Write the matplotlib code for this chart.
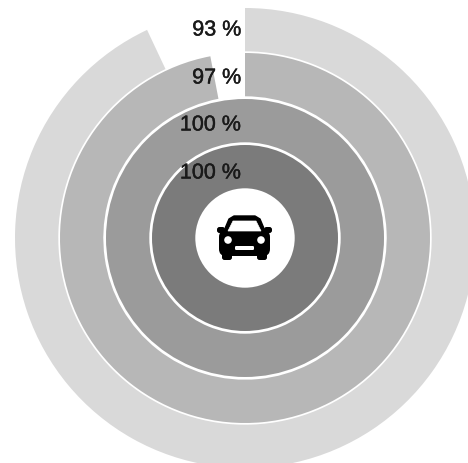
import matplotlib
matplotlib.use('Agg')
import matplotlib.pyplot as plt
import matplotlib.patheffects as pe
from matplotlib.patches import Circle, FancyBboxPatch, Polygon

values = [93, 97, 100, 100]
labels = ['93 %', '97 %', '100 %', '100 %']
colors = ['#d9d9d9', '#b7b7b7', '#9b9b9b', '#7b7b7b']

W, H = 468, 463
cx, cy = 245, H - 238

fig = plt.figure(figsize=(W / 100, H / 100), dpi=100)
ax = fig.add_axes([0, 0, 1, 1])

# rings, outermost first
radii = [230, 185, 139, 93]
for val, col, r in zip(values, colors, radii):
    ax.pie([val, 100 - val], colors=[col, 'none'], radius=r, center=(cx, cy),
           startangle=90, counterclock=False, frame=True,
           wedgeprops=dict(width=43.3, edgecolor='none', linewidth=0))

ax.add_patch(Circle((cx - 1, cy), 47, fc='white', ec='none', zorder=3))

ax.set_xlim(0, W)
ax.set_ylim(0, H)
ax.set_aspect('equal')
ax.axis('off')

# labels, right aligned just left of 12 o'clock
label_y = [30, 78, 125, 173]
for txt, y in zip(labels, label_y):
    ax.text(241, H - y, txt, ha='right', va='center', fontsize=15.5,
            family=['Liberation Sans', 'DejaVu Sans'], color='#1a1a1a', zorder=5,
            path_effects=[pe.withStroke(linewidth=0.3, foreground='#1a1a1a')])


# car icon, given in picture pixels
def px(x, y):
    return (x, H - y)


def rrect(x0, y0, x1, y1, rad, col):
    ax.add_patch(FancyBboxPatch(px(x0 + rad, y1 - rad), x1 - x0 - 2 * rad, y1 - y0 - 2 * rad,
                                boxstyle='round,pad=%g' % rad, fc=col, ec='none', zorder=4))


rrect(222, 250, 232, 260, 2.5, 'black')
rrect(257, 250, 267, 260, 2.5, 'black')
rrect(219, 230, 270, 256, 7, 'black')
ax.add_patch(Polygon([px(221, 238), px(229, 219), px(234, 216), px(255, 216), px(260, 219), px(268, 238)],
                     fc='black', ec='black', lw=1, joinstyle='round', zorder=4))
rrect(217, 227, 225, 233, 2.5, 'black')
rrect(264, 227, 272, 233, 2.5, 'black')
ax.add_patch(Polygon([px(228, 231), px(233, 221), px(256, 221), px(261, 231)],
                     fc='white', ec='white', lw=0.5, zorder=5))
ax.add_patch(Circle(px(228, 240), 3.8, fc='white', ec='none', zorder=5))
ax.add_patch(Circle(px(261, 240), 3.8, fc='white', ec='none', zorder=5))
rrect(235, 246, 254, 250, 1.2, 'white')

fig.savefig('out.png', dpi=100)
